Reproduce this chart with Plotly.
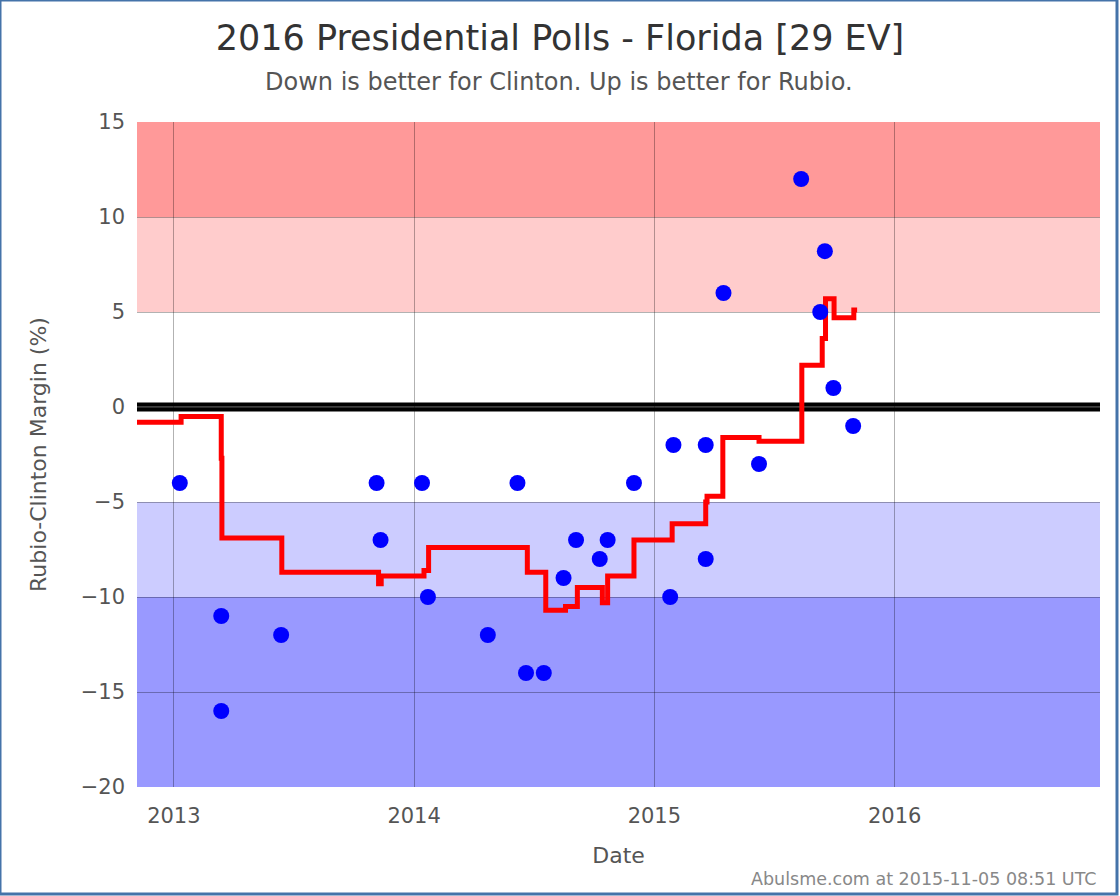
import plotly.graph_objects as go

# Poll data (dots)
poll_dates = ["2013-01-10", "2013-03-14", "2013-03-14", "2013-06-13", "2013-11-05",
              "2013-11-11", "2014-01-13", "2014-01-22", "2014-04-23", "2014-06-07",
              "2014-06-20", "2014-07-17", "2014-08-16", "2014-09-04", "2014-10-10",
              "2014-10-22", "2014-12-01", "2015-01-30", "2015-01-25", "2015-03-20",
              "2015-03-20", "2015-04-16", "2015-06-09", "2015-08-12", "2015-09-10",
              "2015-09-17", "2015-09-30", "2015-10-30"]
poll_margins = [-4, -11, -16, -12, -4, -7, -4, -10, -12, -4, -14, -14, -9, -7, -8,
                -7, -4, -2, -10, -8, -2, 6, -3, 12, 5, 8.2, 1, -1]

# Poll average (step line)
avg_dates = ["2012-11-06", "2013-01-12", "2013-03-14", "2013-03-15", "2013-06-14",
             "2013-11-08", "2013-11-12", "2014-01-16", "2014-01-23", "2014-06-22",
             "2014-07-20", "2014-08-19", "2014-09-06", "2014-10-14", "2014-10-22",
             "2014-12-01", "2015-01-28", "2015-03-20", "2015-03-22", "2015-04-15",
             "2015-06-09", "2015-08-13", "2015-09-13", "2015-09-18", "2015-10-01",
             "2015-10-31", "2015-11-05"]
avg_values = [-0.8, -0.5, -2.7, -6.9, -8.7, -9.3, -8.9, -8.6, -7.4, -8.7,
              -10.7, -10.5, -9.5, -10.3, -8.9, -7.0, -6.15, -5.0, -4.7, -1.6,
              -1.8, 2.2, 3.6, 5.7, 4.7, 5.1, 5.1]

# Bands
band_ranges = [(10, 15), (5, 10), (-10, -5), (-20, -10)]
band_colors = ["#ff9999", "#ffcccc", "#ccccff", "#9999ff"]

x_range = ["2012-11-06", "2016-11-08"]
y_ticks = [-20, -15, -10, -5, 0, 5, 10, 15]
x_ticks = ["2013-01-01", "2014-01-01", "2015-01-01", "2016-01-01"]
x_ticklabels = ["2013", "2014", "2015", "2016"]

FONT = "DejaVu Sans"

fig = go.Figure()

shapes = []
for (y0, y1), c in zip(band_ranges, band_colors):
    shapes.append(dict(type="rect", xref="paper", yref="y", x0=0, x1=1, y0=y0, y1=y1,
                       fillcolor=c, line=dict(width=0), layer="below"))
shapes.append(dict(type="line", xref="paper", yref="y", x0=0, x1=1, y0=0, y1=0,
                   line=dict(color="black", width=9), layer="below"))
shapes.append(dict(type="line", xref="paper", yref="y", x0=0, x1=1, y0=0, y1=0,
                   line=dict(color="#555555", width=1.5), layer="below"))
# outer border
shapes.append(dict(type="rect", xref="paper", yref="paper", x0=-137/963, x1=(1117-137)/963,
                   y0=-107/665, y1=(787+0)/665, line=dict(color="#4473a9", width=3),
                   fillcolor="rgba(0,0,0,0)", layer="above"))

fig.add_trace(go.Scatter(x=avg_dates, y=avg_values, mode="lines",
                         line=dict(color="#ff0000", width=5, shape="hv"),
                         hoverinfo="skip", showlegend=False))
fig.add_trace(go.Scatter(x=poll_dates, y=poll_margins, mode="markers",
                         marker=dict(color="#0000ff", size=16),
                         showlegend=False))

fig.update_layout(
    width=1120, height=896,
    margin=dict(l=137, r=20, t=122, b=109),
    paper_bgcolor="white", plot_bgcolor="white",
    font=dict(family=FONT, color="#555555"),
    shapes=shapes,
    title=dict(text="2016 Presidential Polls - Florida [29 EV]",
               x=0.5, xref="container", xanchor="center", y=1 - 38/896, yanchor="middle",
               font=dict(family=FONT, size=35, color="#333333")),
    annotations=[
        dict(text="Down is better for Clinton. Up is better for Rubio.",
             xref="paper", yref="paper", x=(559-137)/963, y=(787-82)/665,
             yanchor="middle", xanchor="center", showarrow=False,
             font=dict(family=FONT, size=24, color="#555555")),
        dict(text="Abulsme.com at 2015-11-05 08:51 UTC",
             xref="paper", yref="paper", x=(1099-137)/963, y=-(879-787)/665,
             yanchor="middle", xanchor="right", showarrow=False,
             font=dict(family=FONT, size=17.5, color="#888888")),
    ],
    xaxis=dict(range=x_range, type="date", tickvals=x_ticks, ticktext=x_ticklabels,
               showgrid=True, gridcolor="rgba(0,0,0,0.3)", gridwidth=1,
               zeroline=False, showline=False, ticks="",
               ticklabelstandoff=14,
               tickfont=dict(size=21, color="#555555"),
               title=dict(text="Date", font=dict(size=22, color="#555555"), standoff=20)),
    yaxis=dict(range=[-20, 15], tickvals=y_ticks,
               showgrid=True, gridcolor="rgba(0,0,0,0.3)", gridwidth=1,
               zeroline=False, showline=False, ticks="",
               ticklabelstandoff=11,
               tickfont=dict(size=21, color="#555555"),
               title=dict(text="Rubio-Clinton Margin (%)", font=dict(size=22, color="#555555"),
                          standoff=27)),
)

fig.write_html("out.html")
